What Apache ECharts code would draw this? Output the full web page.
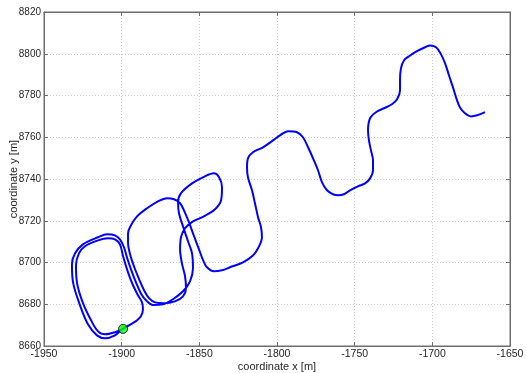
<!DOCTYPE html>
<html>
<head>
<meta charset="utf-8">
<script src="https://cdn.jsdelivr.net/npm/echarts@6/dist/echarts.min.js"></script>
<style>
html,body{margin:0;padding:0;background:#fff;}
#c{width:526px;height:373px;}
</style>
</head>
<body>
<div id="c"></div>
<script>
// axis ranges / ticks
var xTicks = [-1950, -1900, -1850, -1800, -1750, -1700, -1650];
var yTicks = [8660, 8680, 8700, 8720, 8740, 8760, 8780, 8800, 8820];

// trajectory, in order (x [m], y [m])
var lap1 = [
  [-1899.1, 8668.2], [-1904.3, 8666.6], [-1910.7, 8665.6], [-1915.2, 8667.0],
  [-1919.7, 8672.3], [-1924.9, 8680.5], [-1928.8, 8690.5], [-1929.4, 8698.7],
  [-1927.5, 8704.4], [-1923.6, 8707.8], [-1915.2, 8710.6], [-1908.8, 8711.6],
  [-1904.3, 8711.1], [-1901.1, 8708.7], [-1899.1, 8703.0], [-1895.9, 8695.3],
  [-1892.7, 8689.1], [-1889.5, 8684.3], [-1886.9, 8680.9], [-1886.3, 8677.6],
  [-1887.6, 8674.2], [-1890.8, 8671.9], [-1895.3, 8669.9], [-1899.8, 8668.0]
];
var lap2 = [
  [-1904.3, 8665.1], [-1910.7, 8663.7], [-1915.9, 8665.1], [-1921.7, 8670.4],
  [-1926.8, 8679.5], [-1931.3, 8690.5], [-1932.0, 8699.1], [-1930.0, 8704.4],
  [-1924.9, 8708.7], [-1915.2, 8712.1], [-1909.4, 8713.5], [-1904.3, 8713.0],
  [-1901.1, 8711.1], [-1898.5, 8707.3], [-1896.6, 8702.5], [-1894.0, 8696.7],
  [-1890.8, 8690.5], [-1887.6, 8685.2], [-1884.3, 8681.9], [-1879.8, 8679.7],
  [-1873.4, 8680.0], [-1867.0, 8682.4], [-1860.5, 8686.2], [-1856.0, 8691.0]
];
var loop3 = [
  [-1854.1, 8697.2], [-1854.7, 8704.4], [-1857.3, 8710.2], [-1860.5, 8717.3],
  [-1863.1, 8723.6], [-1863.7, 8728.8], [-1861.8, 8733.2], [-1854.7, 8737.9],
  [-1846.4, 8741.3], [-1840.6, 8742.7], [-1837.3, 8740.8], [-1835.4, 8736.0],
  [-1836.0, 8729.8], [-1839.9, 8725.5], [-1847.0, 8722.1], [-1854.1, 8719.7],
  [-1859.2, 8716.4], [-1861.8, 8712.1], [-1862.4, 8706.3], [-1861.2, 8699.6],
  [-1859.2, 8693.4], [-1858.6, 8687.6], [-1860.5, 8683.8], [-1865.7, 8681.4],
  [-1872.7, 8680.5], [-1878.5, 8680.9], [-1882.4, 8682.9]
];
var loop2Exit = [
  [-1885.6, 8686.7], [-1888.8, 8692.0], [-1892.1, 8698.2], [-1894.6, 8703.9],
  [-1895.9, 8709.2], [-1895.9, 8714.0], [-1894.0, 8717.8], [-1890.1, 8722.1],
  [-1883.7, 8726.0], [-1876.6, 8729.3], [-1870.8, 8730.8], [-1866.3, 8730.3],
  [-1862.4, 8728.4], [-1859.9, 8725.0], [-1856.7, 8719.3], [-1853.4, 8712.6],
  [-1850.2, 8706.3], [-1847.6, 8701.1], [-1845.1, 8697.7], [-1840.6, 8695.8],
  [-1835.4, 8696.3], [-1830.3, 8697.7]
];
var serpentine = [
  [-1821.9, 8700.1], [-1815.5, 8703.4], [-1812.2, 8706.8], [-1809.7, 8712.1],
  [-1810.3, 8716.9], [-1812.2, 8721.7], [-1814.2, 8728.4], [-1816.1, 8734.6],
  [-1818.7, 8740.8], [-1819.3, 8745.6], [-1818.7, 8749.9], [-1815.5, 8752.8],
  [-1809.0, 8755.2], [-1802.6, 8758.5], [-1798.1, 8760.9], [-1792.9, 8762.9],
  [-1787.1, 8762.4], [-1783.3, 8760.0], [-1780.0, 8755.2], [-1776.8, 8749.9],
  [-1773.6, 8744.2], [-1771.0, 8738.4], [-1767.8, 8734.6], [-1764.0, 8732.7],
  [-1760.7, 8732.2], [-1756.9, 8732.7], [-1753.0, 8734.6], [-1747.9, 8736.5],
  [-1743.3, 8737.9], [-1740.1, 8740.3], [-1738.2, 8744.2], [-1738.2, 8749.0],
  [-1739.5, 8753.7], [-1740.8, 8758.5], [-1741.4, 8763.3], [-1740.1, 8769.1],
  [-1736.3, 8772.0], [-1731.1, 8773.9], [-1726.0, 8775.8], [-1722.7, 8778.2],
  [-1720.8, 8782.5], [-1720.8, 8787.3], [-1720.2, 8793.0], [-1718.2, 8796.9],
  [-1715.0, 8798.8], [-1709.9, 8801.2], [-1704.7, 8803.1], [-1701.5, 8804.0],
  [-1697.6, 8803.1], [-1694.4, 8799.7], [-1691.8, 8795.4], [-1689.3, 8789.7],
  [-1686.7, 8783.9], [-1684.1, 8777.7], [-1682.2, 8774.3], [-1679.0, 8771.5],
  [-1675.1, 8770.0], [-1671.2, 8770.5], [-1666.1, 8772.0]
];
var startPoint = [-1899.1, 8668.2];

var path = [].concat(lap1, lap2, loop3, loop2Exit, serpentine);

var font = "'Liberation Sans', Arial, Helvetica, sans-serif";
var axisCol = '#6e6e6e';
var txtCol = '#262626';
var chart = echarts.init(document.getElementById('c'), null, {renderer: 'canvas'});
var xMin = xTicks[0], xMax = xTicks[xTicks.length - 1], xInt = xTicks[1] - xTicks[0];
var yMin = yTicks[0], yMax = yTicks[yTicks.length - 1], yInt = yTicks[1] - yTicks[0];
function plain(v) { return String(v); }

chart.setOption({
  animation: false,
  backgroundColor: '#ffffff',
  grid: {left: 44, top: 12, width: 466, height: 334, containLabel: false, outerBoundsMode: 'none',
         show: true, borderColor: axisCol, borderWidth: 1, backgroundColor: 'transparent'},
  xAxis: [{
    type: 'value', min: xMin, max: xMax, interval: xInt, position: 'bottom',
    name: 'coordinate x [m]', nameLocation: 'middle', nameGap: 15, nameMoveOverlap: false,
    nameTextStyle: {fontFamily: font, fontSize: 11, color: txtCol},
    axisLine: {show: true, lineStyle: {color: axisCol}},
    axisTick: {show: true, inside: true, length: 4, lineStyle: {color: axisCol}},
    axisLabel: {fontFamily: font, fontSize: 10.5, color: txtCol, margin: 3, formatter: plain},
    splitLine: {show: true, lineStyle: {color: '#c8c8c8', type: [1, 2], width: 1}}
  }, {
    type: 'value', min: xMin, max: xMax, interval: xInt, position: 'top',
    axisLine: {show: true, lineStyle: {color: axisCol}},
    axisTick: {show: true, inside: true, length: 4, lineStyle: {color: axisCol}},
    axisLabel: {show: false}, splitLine: {show: false}
  }],
  yAxis: [{
    type: 'value', min: yMin, max: yMax, interval: yInt, position: 'left',
    name: 'coordinate y [m]', nameLocation: 'middle', nameGap: 25, nameRotate: 90, nameMoveOverlap: false,
    nameTextStyle: {fontFamily: font, fontSize: 11, color: txtCol},
    axisLine: {show: true, lineStyle: {color: axisCol}},
    axisTick: {show: true, inside: true, length: 4, lineStyle: {color: axisCol}},
    axisLabel: {fontFamily: font, fontSize: 10, color: txtCol, margin: 3, formatter: plain},
    splitLine: {show: true, lineStyle: {color: '#c8c8c8', type: [1, 2], width: 1}}
  }, {
    type: 'value', min: yMin, max: yMax, interval: yInt, position: 'right',
    axisLine: {show: true, lineStyle: {color: axisCol}},
    axisTick: {show: true, inside: true, length: 4, lineStyle: {color: axisCol}},
    axisLabel: {show: false}, splitLine: {show: false}
  }],
  series: [{
    type: 'line', xAxisIndex: 0, yAxisIndex: 0,
    data: path, showSymbol: false, symbol: 'none', smooth: 0.35,
    lineStyle: {color: '#0000ff', width: 2},
    clip: true
  }, {
    type: 'scatter', xAxisIndex: 0, yAxisIndex: 0,
    data: [startPoint], symbol: 'circle', symbolSize: 9,
    itemStyle: {color: '#00ff00', borderColor: '#000000', borderWidth: 1},
    z: 5
  }]
});
</script>
</body>
</html>
